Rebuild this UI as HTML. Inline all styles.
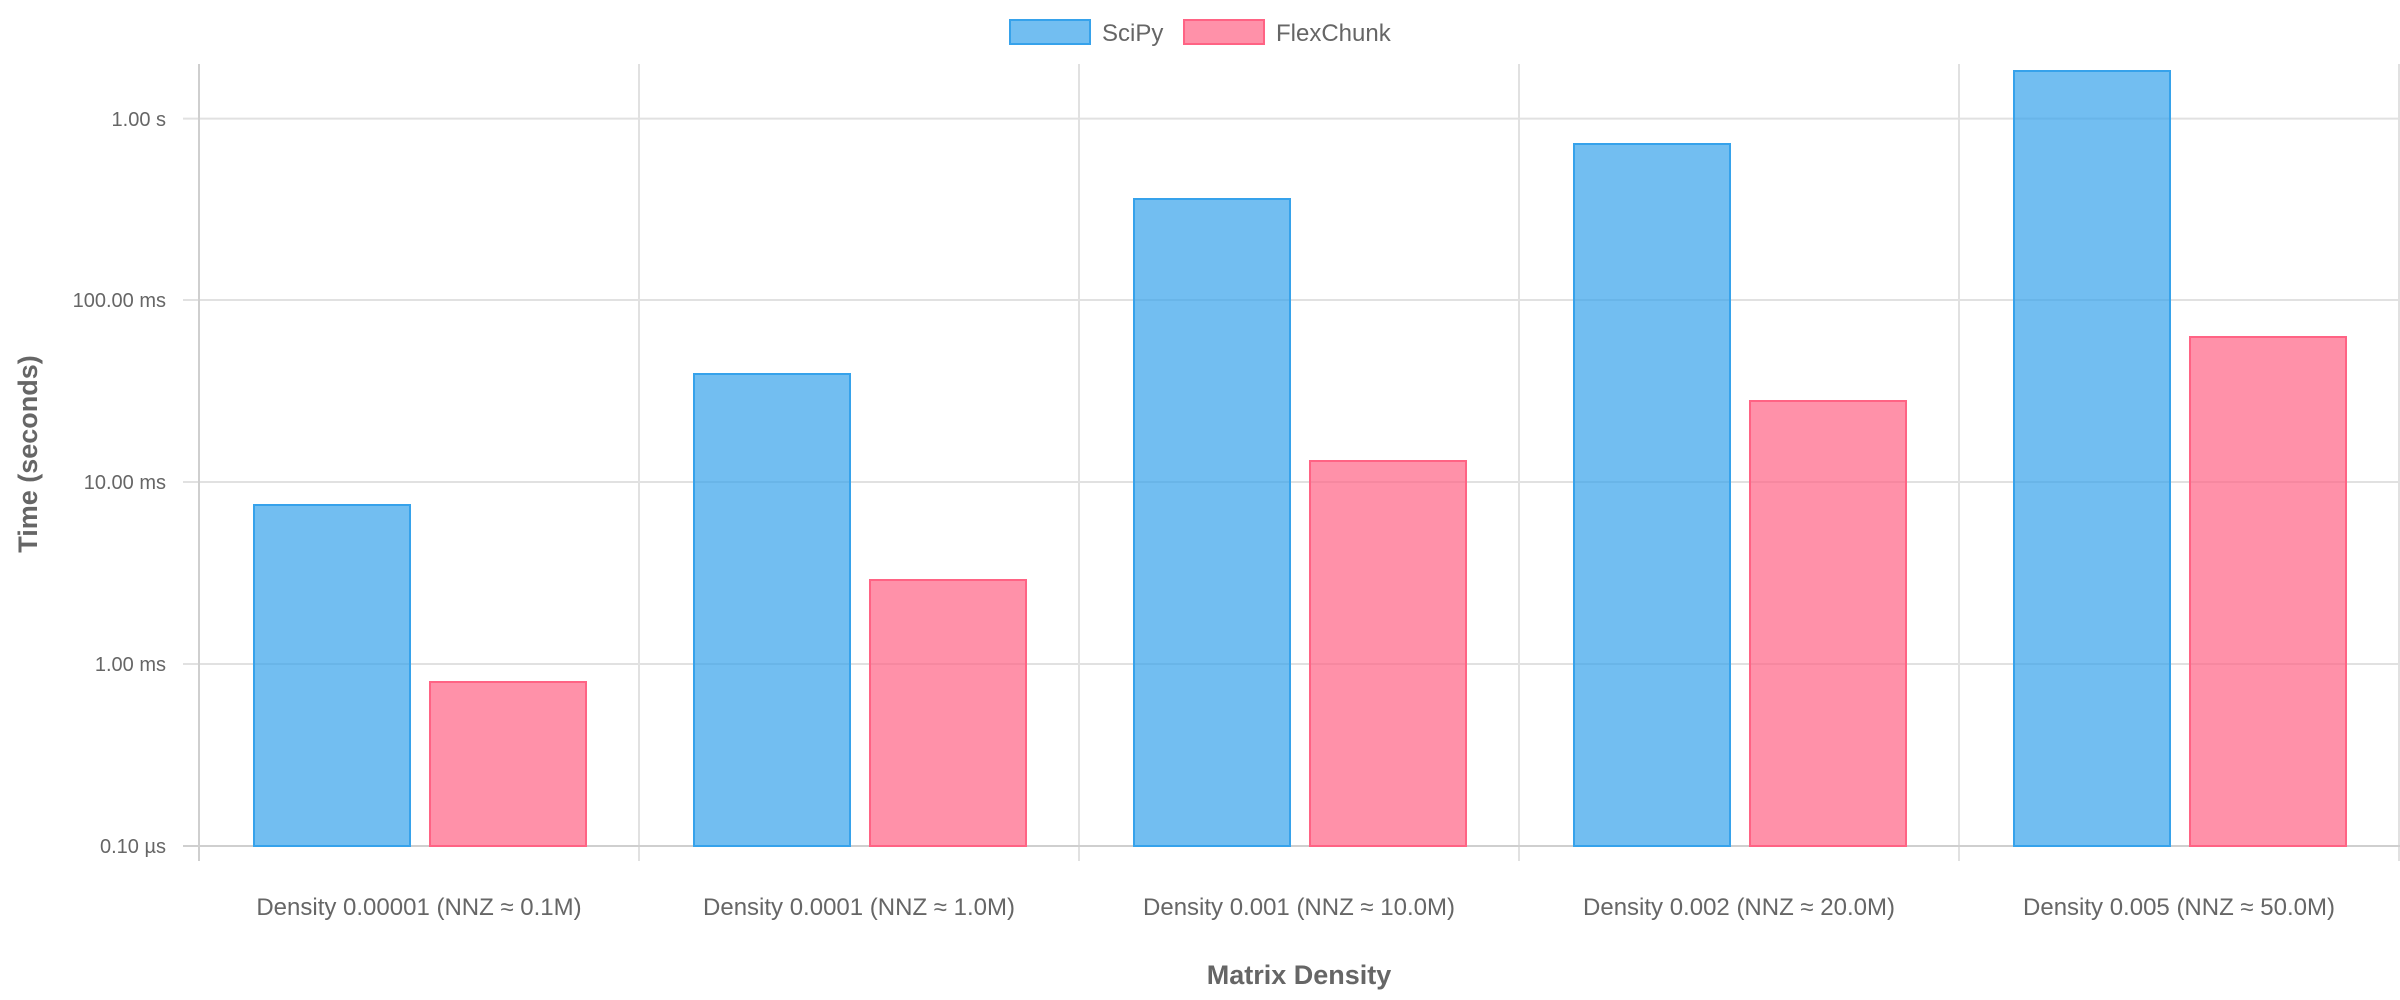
<!DOCTYPE html>
<html><head><meta charset="utf-8"><style>html,body{margin:0;padding:0;background:#fff}svg{display:block}</style></head>
<body>
<svg width="2400" height="1000" xmlns="http://www.w3.org/2000/svg" font-family="Liberation Sans, Arial, sans-serif">
<g stroke="#e1e1e1" stroke-width="2">
<line x1="183" y1="118.6" x2="2400" y2="118.6"/>
<line x1="183" y1="300" x2="2400" y2="300"/>
<line x1="183" y1="482" x2="2400" y2="482"/>
<line x1="183" y1="664" x2="2400" y2="664"/>
<line x1="639" y1="64" x2="639" y2="861"/>
<line x1="1079" y1="64" x2="1079" y2="861"/>
<line x1="1519" y1="64" x2="1519" y2="861"/>
<line x1="1959" y1="64" x2="1959" y2="861"/>
<line x1="2399" y1="64" x2="2399" y2="861"/>
</g>
<g stroke="#cfcfcf" stroke-width="2">
<line x1="199" y1="64" x2="199" y2="861"/>
<line x1="183" y1="846" x2="2400" y2="846"/>
</g>
<g fill="#666" font-size="20" text-anchor="end">
<text x="166" y="126">1.00 s</text>
<text x="166" y="307">100.00 ms</text>
<text x="166" y="489">10.00 ms</text>
<text x="166" y="671">1.00 ms</text>
<text x="166" y="853">0.10 µs</text>
</g>
<g stroke-width="2">
<rect x="254" y="505" width="156" height="341" fill="rgba(54,162,235,0.7)" stroke="#36a2eb"/>
<rect x="430" y="682" width="156" height="164" fill="rgba(255,99,132,0.7)" stroke="#ff6384"/>
<rect x="694" y="374" width="156" height="472" fill="rgba(54,162,235,0.7)" stroke="#36a2eb"/>
<rect x="870" y="580" width="156" height="266" fill="rgba(255,99,132,0.7)" stroke="#ff6384"/>
<rect x="1134" y="199" width="156" height="647" fill="rgba(54,162,235,0.7)" stroke="#36a2eb"/>
<rect x="1310" y="461" width="156" height="385" fill="rgba(255,99,132,0.7)" stroke="#ff6384"/>
<rect x="1574" y="144" width="156" height="702" fill="rgba(54,162,235,0.7)" stroke="#36a2eb"/>
<rect x="1750" y="401" width="156" height="445" fill="rgba(255,99,132,0.7)" stroke="#ff6384"/>
<rect x="2014" y="71" width="156" height="775" fill="rgba(54,162,235,0.7)" stroke="#36a2eb"/>
<rect x="2190" y="337" width="156" height="509" fill="rgba(255,99,132,0.7)" stroke="#ff6384"/>
</g>
<g fill="#666" font-size="24" text-anchor="middle">
<text x="419" y="915">Density 0.00001 (NNZ ≈ 0.1M)</text>
<text x="859" y="915">Density 0.0001 (NNZ ≈ 1.0M)</text>
<text x="1299" y="915">Density 0.001 (NNZ ≈ 10.0M)</text>
<text x="1739" y="915">Density 0.002 (NNZ ≈ 20.0M)</text>
<text x="2179" y="915">Density 0.005 (NNZ ≈ 50.0M)</text>
</g>
<text x="1299" y="984" fill="#666" font-size="27" font-weight="bold" text-anchor="middle">Matrix Density</text>
<text transform="translate(37,454) rotate(-90)" fill="#666" font-size="27" font-weight="bold" text-anchor="middle">Time (seconds)</text>
<rect x="1010" y="20" width="80" height="24" fill="rgba(54,162,235,0.7)" stroke="#36a2eb" stroke-width="2"/>
<text x="1102" y="41" fill="#666" font-size="24">SciPy</text>
<rect x="1184" y="20" width="80" height="24" fill="rgba(255,99,132,0.7)" stroke="#ff6384" stroke-width="2"/>
<text x="1276" y="41" fill="#666" font-size="24">FlexChunk</text>
</svg>
</body></html>
